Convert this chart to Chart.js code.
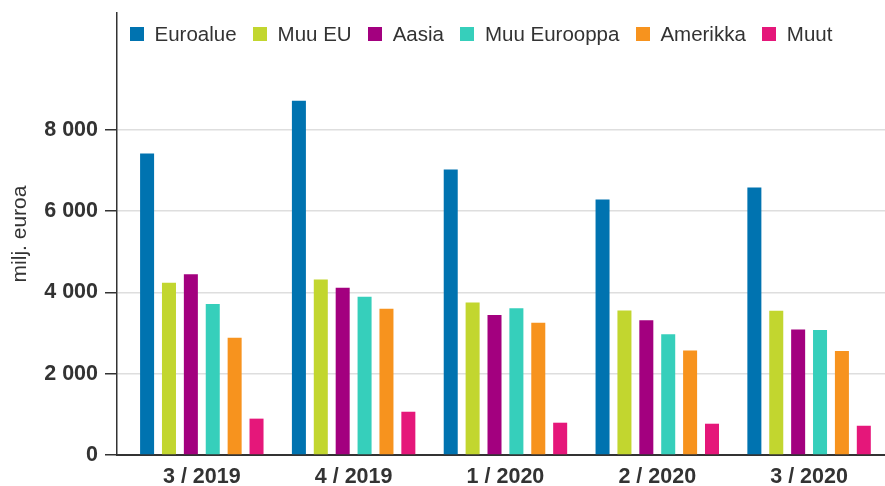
<!DOCTYPE html>
<html>
<head>
<meta charset="utf-8">
<script src="https://cdn.jsdelivr.net/npm/chart.js@4/dist/chart.umd.min.js"></script>
<style>
    body { margin: 0; background: #fff; }
    #wrap { position: relative; width: 885px; height: 486px; }
    #legend { position: absolute; left: 130px; top: 22px; display: flex; align-items: center;
        font: 20.5px 'Liberation Sans', Arial, sans-serif; color: #333; white-space: nowrap; }
    #legend .item { display: flex; align-items: center; margin-right: 16.5px; }
    #legend .box { width: 14px; height: 14px; margin-right: 10.5px; }
</style>
</head>
<body>
<div id="wrap">
    <canvas id="chart" width="885" height="486"></canvas>
    <div id="legend"></div>
</div>
<script>
// kvartaalit
const categories = ['3 / 2019', '4 / 2019', '1 / 2020', '2 / 2020', '3 / 2020'];
const seriesNames = ['Euroalue', 'Muu EU', 'Aasia', 'Muu Eurooppa', 'Amerikka', 'Muut'];
const seriesColors = ['#0073b0', '#c2d62f', '#a3007f', '#36cfbb', '#f7931e', '#e5177a'];

// milj. euroa
const euroalue = [7420, 8720, 7030, 6290, 6585];
const muuEU = [4240, 4320, 3755, 3560, 3550];
const aasia = [4450, 4115, 3445, 3320, 3090];
const muuEurooppa = [3715, 3895, 3610, 2970, 3075];
const amerikka = [2885, 3600, 3255, 2575, 2560];
const muut = [895, 1065, 795, 770, 720];

const yTicks = [0, 2000, 4000, 6000, 8000];

const seriesValues = [euroalue, muuEU, aasia, muuEurooppa, amerikka, muut];
const font = "'Liberation Sans', Arial, sans-serif";

function fmt(v) {
    return String(v).replace(/\B(?=(\d{3})+(?!\d))/g, ' ');
}

const datasets = seriesValues.map(function (vals, i) {
    return {
        label: seriesNames[i],
        data: vals,
        backgroundColor: seriesColors[i],
        categoryPercentage: 0.865,
        barPercentage: 0.64
    };
});

const chart = new Chart(document.getElementById('chart'), {
    type: 'bar',
    data: {
        labels: categories.map(function (c, i) { return i; }),
        datasets: datasets
    },
    options: {
        responsive: false,
        animation: false,
        layout: { padding: { top: 13, left: 0, right: 0, bottom: 0 } },
        plugins: {
            legend: { display: false },
            tooltip: { enabled: false }
        },
        scales: {
            x: {
                type: 'linear',
                offset: false,
                min: -0.5586,
                max: 4.5,
                afterBuildTicks: function (scale) {
                    scale.ticks = categories.map(function (c, i) { return { value: i }; });
                },
                afterFit: function (scale) {
                    scale.height = 31;
                    scale.paddingLeft = 0;
                    scale.paddingRight = 0;
                },
                grid: { display: false, drawTicks: false },
                border: { display: true, color: '#333', width: 2 },
                ticks: {
                    padding: 9,
                    color: '#333',
                    font: { family: font, size: 21.5, weight: 'bold' },
                    maxRotation: 0,
                    autoSkip: false,
                    callback: function (v) { return categories[v]; }
                }
            },
            y: {
                min: 0,
                max: 10880,
                afterBuildTicks: function (scale) {
                    scale.ticks = yTicks.map(function (v) { return { value: v }; });
                },
                afterFit: function (scale) {
                    scale.width = 117;
                    scale.paddingTop = 0;
                    scale.paddingBottom = 0;
                },
                grid: { color: '#dedede', lineWidth: 1.5, tickLength: 12, tickColor: '#333', tickWidth: 1.5 },
                border: { display: true, color: '#333', width: 1.5 },
                ticks: {
                    padding: 7,
                    color: '#333',
                    font: { family: font, size: 21.5, weight: 'bold' },
                    callback: function (v) { return fmt(v); }
                },
                title: {
                    display: true,
                    text: 'milj. euroa',
                    color: '#333',
                    font: { family: font, size: 21 },
                    padding: { top: 8, bottom: 0 }
                }
            }
        }
    }
});

// selite kuvan sisälle
const legendEl = document.getElementById('legend');
chart.data.datasets.forEach(function (ds) {
    const item = document.createElement('div');
    item.className = 'item';
    const box = document.createElement('span');
    box.className = 'box';
    box.style.background = ds.backgroundColor;
    item.appendChild(box);
    item.appendChild(document.createTextNode(ds.label));
    legendEl.appendChild(item);
});
</script>
</body>
</html>
